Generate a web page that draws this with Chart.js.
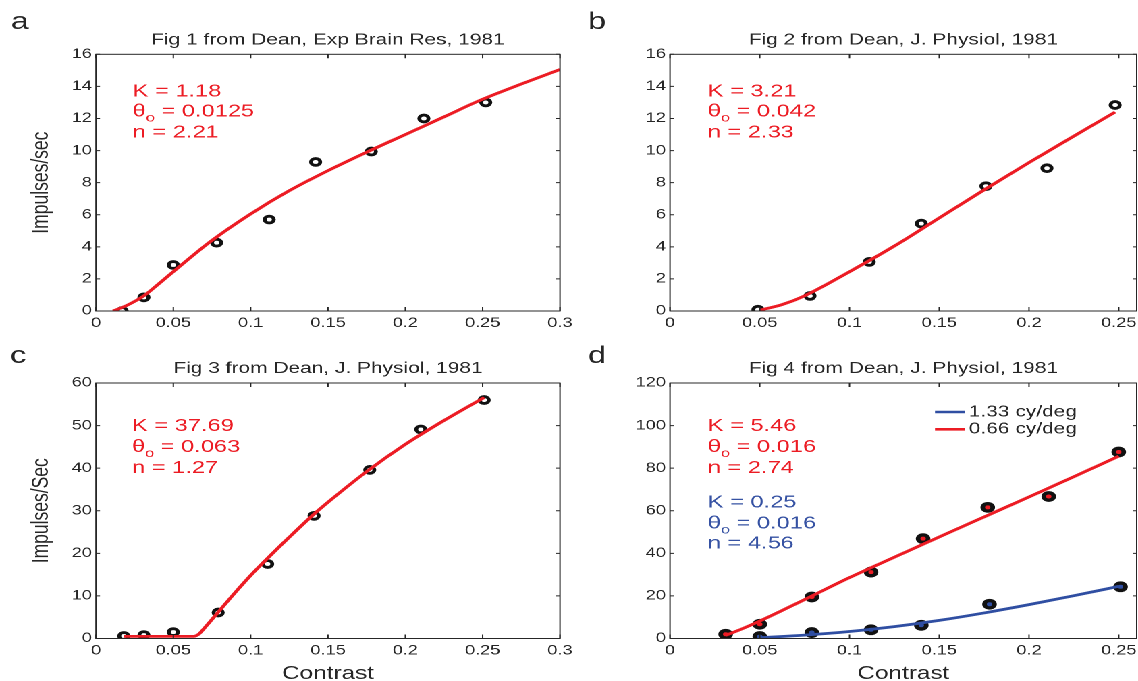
<!DOCTYPE html>
<html>
<head>
<meta charset="utf-8">
<title>Dean 1981 - contrast response fits</title>
<script src="https://cdn.jsdelivr.net/npm/chart.js@4.4.1/dist/chart.umd.min.js"></script>
<style>
    html, body { margin: 0; padding: 0; background: #fff; overflow: hidden; }
    /* the original figure is stretched sideways, so the whole sheet is drawn narrow and widened */
    #sheet { position: relative; width: 843px; height: 681px; transform: scaleX(1.35); transform-origin: 0 0; }
    #sheet canvas { position: absolute; }
</style>
</head>
<body>
<div id="sheet">
    <canvas id="panel-a" width="440" height="340" style="left:0;top:0"></canvas>
    <canvas id="panel-b" width="435" height="340" style="left:425px;top:0"></canvas>
    <canvas id="panel-c" width="440" height="355" style="left:0;top:330px"></canvas>
    <canvas id="panel-d" width="435" height="355" style="left:425px;top:330px"></canvas>
</div>
<script>
/**
 * Values.
 */
const titles = [
    'Fig 1 from Dean, Exp Brain Res, 1981',
    'Fig 2 from Dean, J. Physiol, 1981',
    'Fig 3 from Dean, J. Physiol, 1981',
    'Fig 4 from Dean, J. Physiol, 1981'
];

const xTicksWide = ['0', '0.05', '0.1', '0.15', '0.2', '0.25', '0.3'];
const xTicksNarrow = ['0', '0.05', '0.1', '0.15', '0.2', '0.25'];
const yTicks16 = ['0', '2', '4', '6', '8', '10', '12', '14', '16'];
const yTicks60 = ['0', '10', '20', '30', '40', '50', '60'];
const yTicks120 = ['0', '20', '40', '60', '80', '100', '120'];

// panel a
const contrastA = [0.017, 0.031, 0.05, 0.078, 0.112, 0.142, 0.178, 0.212, 0.252];
const rateA = [0, 0.85, 2.87, 4.26, 5.7, 9.29, 9.94, 12.0, 13.0];
const fitContrastA = [0.011, 0.02, 0.031, 0.04, 0.05, 0.0625, 0.075, 0.1, 0.125, 0.15, 0.175, 0.2, 0.225, 0.25, 0.275, 0.3];
const fitRateA = [0, 0.35, 0.95, 1.65, 2.45, 3.45, 4.4, 6.05, 7.5, 8.75, 9.9, 11.0, 12.1, 13.2, 14.15, 15.05];
const fitTextA = ['K = 1.18', 'θ_o = 0.0125', 'n = 2.21'];

// panel b
const contrastB = [0.049, 0.078, 0.111, 0.14, 0.176, 0.21, 0.248];
const rateB = [0.08, 0.94, 3.06, 5.45, 7.78, 8.9, 12.84];
const fitContrastB = [0.05, 0.0625, 0.075, 0.1, 0.125, 0.15, 0.175, 0.2, 0.225, 0.248];
const fitRateB = [0.05, 0.4, 0.95, 2.45, 4.05, 5.8, 7.55, 9.25, 10.9, 12.4];
const fitTextB = ['K = 3.21', 'θ_o = 0.042', 'n = 2.33'];

// panel c
const contrastC = [0.018, 0.031, 0.05, 0.079, 0.111, 0.141, 0.177, 0.21, 0.251];
const rateC = [0.6, 0.8, 1.5, 6.1, 17.5, 28.8, 39.6, 49.1, 56.0];
const fitContrastC = [0.018, 0.063, 0.066, 0.07, 0.08, 0.09, 0.1, 0.11, 0.125, 0.14, 0.15, 0.175, 0.2, 0.225, 0.251];
const fitRateC = [0.5, 0.5, 0.9, 2.4, 6.6, 10.8, 14.8, 18.5, 23.8, 28.9, 32.0, 39.2, 45.6, 51.2, 56.6];
const fitTextC = ['K = 37.69', 'θ_o = 0.063', 'n = 1.27'];

// panel d, two spatial frequencies
const legendLabelsD = ['1.33 cy/deg', '0.66 cy/deg'];
const contrastLowD = [0.031, 0.05, 0.079, 0.112, 0.141, 0.177, 0.211, 0.25];
const rateLowD = [2.0, 6.7, 19.5, 31.2, 46.9, 61.6, 66.7, 87.6];
const fitContrastLowD = [0.031, 0.04, 0.05, 0.0625, 0.075, 0.1, 0.125, 0.15, 0.175, 0.2, 0.225, 0.25];
const fitRateLowD = [1.5, 4.5, 8.2, 13.2, 18.3, 28.6, 38.2, 47.7, 57.1, 66.5, 76.0, 85.6];
const fitTextLowD = ['K = 5.46', 'θ_o = 0.016', 'n = 2.74'];

const contrastHighD = [0.05, 0.079, 0.112, 0.14, 0.178, 0.251];
const rateHighD = [0.9, 2.8, 4.1, 6.2, 16.1, 24.3];
const fitContrastHighD = [0.05, 0.075, 0.1, 0.125, 0.15, 0.175, 0.2, 0.225, 0.25];
const fitRateHighD = [0.4, 1.6, 3.3, 5.6, 8.5, 12.0, 15.9, 20.1, 24.5];
const fitTextHighD = ['K = 0.25', 'θ_o = 0.016', 'n = 4.56'];

/**
 * Styles.
 */
const FONT = '"Liberation Sans", Arial, Helvetica, sans-serif';
const INK = '#262626';
const RED = '#ec1c24';
const BLUE = '#2f4ea2';
const BLUE_TEXT = '#3652a3';

Chart.defaults.font.family = FONT;
Chart.defaults.color = INK;

const toPoints = (xs, ys) => xs.map((x, i) => ({ x, y: ys[i] }));

// text like 'θ_o = 0.016' gets a one letter subscript after '_'
const drawNoteLine = (ctx, text, x, y, size) => {
    const cut = text.indexOf('_');
    if (cut < 0) {
        ctx.font = `${size}px ${FONT}`;
        ctx.fillText(text, x, y);
        return;
    }
    const head = text.slice(0, cut);
    const sub = text.charAt(cut + 1);
    const tail = text.slice(cut + 2);
    ctx.font = `${size}px ${FONT}`;
    ctx.fillText(head, x, y);
    x += ctx.measureText(head).width;
    ctx.font = `${Math.round(size * 0.7)}px ${FONT}`;
    ctx.fillText(sub, x, y + 5);
    x += ctx.measureText(sub).width;
    ctx.font = `${size}px ${FONT}`;
    ctx.fillText(tail, x, y);
};

/**
 * Matlab-like frame: box, inward ticks on all four sides, title, panel letter,
 * fit parameters and the small legend of panel d.
 */
const panelDecor = {
    id: 'panelDecor',
    afterDatasetsDraw(chart, args, opts) {
        const { ctx, chartArea: { left, right, top, bottom }, scales: { x, y } } = chart;
        ctx.save();

        ctx.strokeStyle = INK;
        ctx.lineWidth = 1;
        ctx.strokeRect(left, top, right - left, bottom - top);

        ctx.beginPath();
        x.ticks.forEach((t) => {
            const px = x.getPixelForValue(t.value);
            ctx.moveTo(px, bottom); ctx.lineTo(px, bottom - 4);
            ctx.moveTo(px, top); ctx.lineTo(px, top + 4);
        });
        y.ticks.forEach((t) => {
            const py = y.getPixelForValue(t.value);
            ctx.moveTo(left, py); ctx.lineTo(left + 3, py);
            ctx.moveTo(right, py); ctx.lineTo(right - 3, py);
        });
        ctx.stroke();

        ctx.fillStyle = INK;
        ctx.textBaseline = 'alphabetic';
        ctx.textAlign = 'center';
        ctx.font = `15.5px ${FONT}`;
        ctx.fillText(opts.title, (left + right) / 2, top - 10);

        ctx.textAlign = 'left';
        ctx.font = `24px ${FONT}`;
        ctx.fillText(opts.letter, opts.letterX, opts.letterY);

        (opts.notes || []).forEach((block) => {
            ctx.fillStyle = block.color;
            block.lines.forEach((line, i) => drawNoteLine(ctx, line, left + block.dx, top + block.dy[i], 17.5));
        });

        if (opts.legend) {
            ctx.font = `15.5px ${FONT}`;
            ctx.textBaseline = 'middle';
            opts.legend.items.forEach((item) => {
                ctx.strokeStyle = item.color;
                ctx.lineWidth = 2.6;
                ctx.beginPath();
                ctx.moveTo(left + opts.legend.dx, top + item.dy);
                ctx.lineTo(left + opts.legend.dx + 22, top + item.dy);
                ctx.stroke();
                ctx.fillStyle = INK;
                ctx.fillText(item.label, left + opts.legend.dx + 25, top + item.dy);
            });
        }
        ctx.restore();
    }
};

const fitLine = (xs, ys, color) => ({
    data: toPoints(xs, ys),
    showLine: true,
    borderColor: color,
    borderWidth: 2.8,
    pointRadius: 0,
    cubicInterpolationMode: 'monotone',
    order: 0
});

const dots = (xs, ys, fill, radius, width) => ({
    data: toPoints(xs, ys),
    showLine: false,
    pointRadius: radius,
    pointBorderWidth: width,
    pointBorderColor: '#111',
    pointBackgroundColor: fill,
    order: 1
});

const buildPanel = (id, cfg) => new Chart(document.getElementById(id), {
    type: 'scatter',
    data: { datasets: cfg.datasets },
    options: {
        responsive: false,
        animation: false,
        devicePixelRatio: 2,
        events: [],
        layout: { padding: { top: cfg.padTop, right: cfg.padRight, left: 0, bottom: 0 } },
        plugins: {
            legend: { display: false },
            tooltip: { enabled: false },
            panelDecor: cfg.decor
        },
        scales: {
            x: {
                type: 'linear',
                min: 0,
                max: cfg.xMax,
                grid: { display: false, drawTicks: false },
                border: { display: false },
                ticks: {
                    stepSize: 0.05,
                    includeBounds: false,
                    autoSkip: false,
                    maxRotation: 0,
                    padding: 4,
                    font: { size: 13.5 },
                    color: INK,
                    callback: (v, i) => cfg.xLabels[i]
                },
                title: {
                    display: !!cfg.xTitle,
                    text: cfg.xTitle || '',
                    font: { size: 18 },
                    color: INK,
                    padding: { top: 0, bottom: 0 }
                },
                afterFit: (scale) => { scale.height = cfg.xHeight; }
            },
            y: {
                min: 0,
                max: cfg.yMax,
                grid: { display: false, drawTicks: false },
                border: { display: false },
                ticks: {
                    stepSize: cfg.yStep,
                    autoSkip: false,
                    padding: 3,
                    font: { size: 13.5 },
                    color: INK,
                    callback: (v, i) => cfg.yLabels[i]
                },
                title: {
                    display: !!cfg.yTitle,
                    text: cfg.yTitle || '',
                    font: { size: 17.5 },
                    color: INK,
                    padding: { top: 20, bottom: 0 }
                },
                afterFit: (scale) => { scale.width = cfg.yWidth; }
            }
        }
    },
    plugins: [panelDecor]
});

const HOLLOW = 'rgba(0,0,0,0)';

buildPanel('panel-a', {
    datasets: [fitLine(fitContrastA, fitRateA, RED), dots(contrastA, rateA, HOLLOW, 3.4, 2.9)],
    xMax: 0.3, xLabels: xTicksWide, yMax: 16, yStep: 2, yLabels: yTicks16,
    yTitle: 'Impulses/sec',
    padTop: 54.3, padRight: 25.2, yWidth: 71.1, xHeight: 29,
    decor: {
        title: titles[0], letter: 'a', letterX: 8, letterY: 29,
        notes: [{ lines: fitTextA, color: RED, dx: 27.2, dy: [42.4, 62.4, 83.2] }]
    }
});

buildPanel('panel-b', {
    datasets: [fitLine(fitContrastB, fitRateB, RED), dots(contrastB, rateB, HOLLOW, 3.4, 2.9)],
    xMax: 0.26, xLabels: xTicksNarrow, yMax: 16, yStep: 2, yLabels: yTicks16,
    padTop: 54.3, padRight: 18, yWidth: 71.3, xHeight: 29,
    decor: {
        title: titles[1], letter: 'b', letterX: 10.6, letterY: 29,
        notes: [{ lines: fitTextB, color: RED, dx: 28, dy: [42.4, 62.4, 83.2] }]
    }
});

buildPanel('panel-c', {
    datasets: [fitLine(fitContrastC, fitRateC, RED), dots(contrastC, rateC, HOLLOW, 3.4, 2.9)],
    xMax: 0.3, xLabels: xTicksWide, yMax: 60, yStep: 10, yLabels: yTicks60,
    xTitle: 'Contrast', yTitle: 'Impulses/Sec',
    padTop: 53, padRight: 25.2, yWidth: 71.1, xHeight: 46.5,
    decor: {
        title: titles[2], letter: 'c', letterX: 7.5, letterY: 33,
        notes: [{ lines: fitTextC, color: RED, dx: 26.7, dy: [48, 69, 90] }]
    }
});

buildPanel('panel-d', {
    datasets: [
        fitLine(fitContrastHighD, fitRateHighD, BLUE),
        fitLine(fitContrastLowD, fitRateLowD, RED),
        dots(contrastHighD, rateHighD, BLUE, 3.7, 3.4),
        dots(contrastLowD, rateLowD, RED, 3.7, 3.4)
    ],
    xMax: 0.26, xLabels: xTicksNarrow, yMax: 120, yStep: 20, yLabels: yTicks120,
    xTitle: 'Contrast',
    padTop: 53, padRight: 18, yWidth: 71.3, xHeight: 46.5,
    decor: {
        title: titles[3], letter: 'd', letterX: 10.6, letterY: 33,
        notes: [
            { lines: fitTextLowD, color: RED, dx: 28, dy: [48, 69, 90] },
            { lines: fitTextHighD, color: BLUE_TEXT, dx: 28, dy: [124.3, 145.5, 165.5] }
        ],
        legend: {
            dx: 196.3,
            items: [
                { label: legendLabelsD[0], color: BLUE, dy: 29 },
                { label: legendLabelsD[1], color: RED, dy: 46.3 }
            ]
        }
    }
});
</script>
</body>
</html>
